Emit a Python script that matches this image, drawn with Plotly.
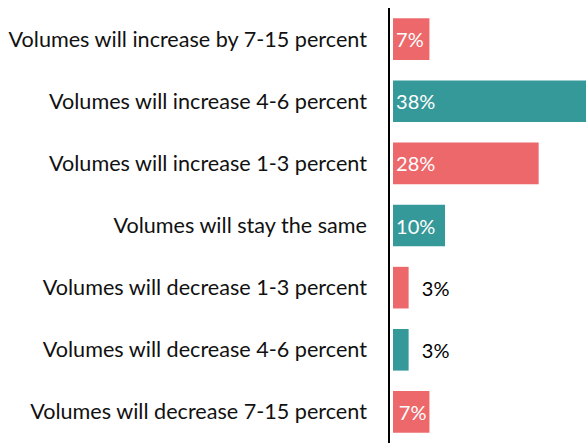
import plotly.graph_objects as go

categories = [
    "Volumes will increase by 7-15 percent",
    "Volumes will increase 4-6 percent",
    "Volumes will increase 1-3 percent",
    "Volumes will stay the same",
    "Volumes will decrease 1-3 percent",
    "Volumes will decrease 4-6 percent",
    "Volumes will decrease 7-15 percent",
]
values = [7, 38, 28, 10, 3, 3, 7]

CORAL = "#ED686A"
TEAL = "#35999A"
colors = [CORAL, TEAL, CORAL, TEAL, CORAL, TEAL, CORAL]
FONT = "Lato"
TICK_SIZE = 21.6
TEXT_SIZE = 20

# small bars carry their label outside, nudged away from the bar end
labels = [("\u00a0\u00a0" if v < 5 else "") + f"{v}%" for v in values]
positions = ["outside" if v < 5 else "inside" for v in values]

main_idx = list(range(len(categories) - 1))
last = len(categories) - 1

fig = go.Figure()
fig.add_trace(go.Bar(
    y=[categories[i] for i in main_idx],
    x=[values[i] for i in main_idx],
    orientation="h",
    marker=dict(color=[colors[i] for i in main_idx], line=dict(width=0)),
    text=[labels[i] for i in main_idx],
    textposition=[positions[i] for i in main_idx],
    insidetextanchor="start",
    insidetextfont=dict(color="white", size=TEXT_SIZE, family=FONT),
    outsidetextfont=dict(color="black", size=TEXT_SIZE, family=FONT),
    cliponaxis=True,
    showlegend=False,
))
fig.add_trace(go.Bar(
    y=[categories[last]],
    x=[values[last]],
    orientation="h",
    marker=dict(color=colors[last], line=dict(width=0)),
    text=[labels[last]],
    textposition="inside",
    insidetextanchor="end",
    insidetextfont=dict(color="white", size=TEXT_SIZE, family=FONT),
    showlegend=False,
))

fig.update_layout(
    width=586, height=443,
    margin=dict(l=390, r=0, t=8, b=0),
    barmode="overlay",
    bargap=0.33,
    plot_bgcolor="white",
    paper_bgcolor="white",
    font=dict(family=FONT, size=TEXT_SIZE, color="#111111"),
)
fig.update_xaxes(
    range=[-0.58, 37.1],
    showgrid=False, zeroline=False, showticklabels=False, showline=False,
)
fig.update_yaxes(
    categoryorder="array", categoryarray=categories, autorange="reversed",
    showgrid=False, zeroline=False,
    showline=True, linecolor="black", linewidth=1.5,
    ticks="", ticklabelstandoff=17,
    tickfont=dict(size=TICK_SIZE, family=FONT, color="#111111"),
)

fig.write_html("out.html")
